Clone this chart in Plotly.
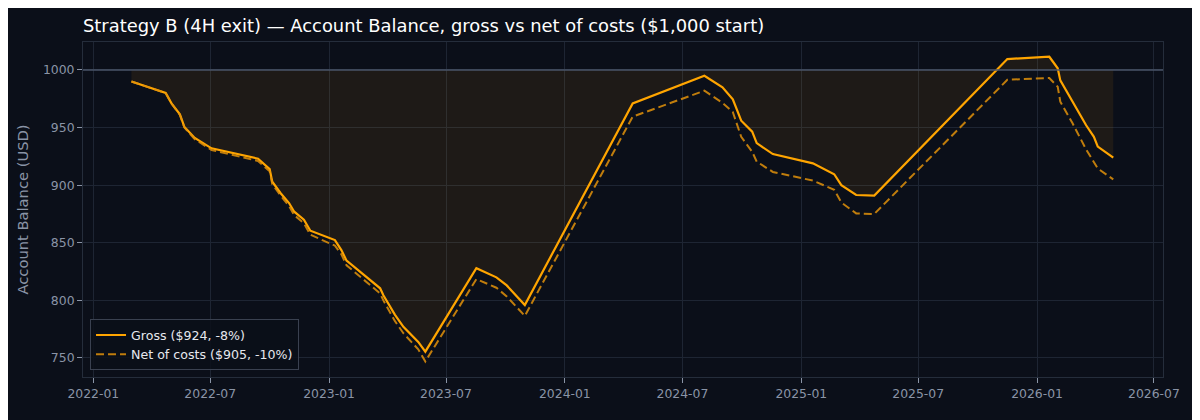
import plotly.graph_objects as go

dates = [
    "2022-03-01", "2022-04-23", "2022-05-02", "2022-05-15", "2022-05-22", "2022-06-07",
    "2022-07-03", "2022-09-13", "2022-10-01", "2022-10-05", "2022-10-18", "2022-10-31",
    "2022-11-08", "2022-11-23", "2022-12-03", "2023-01-10", "2023-01-20", "2023-01-28",
    "2023-03-21", "2023-03-26", "2023-04-13", "2023-04-26", "2023-05-19", "2023-05-30",
    "2023-08-17", "2023-09-17", "2023-10-03", "2023-10-31", "2024-04-15", "2024-08-04",
    "2024-09-01", "2024-09-17", "2024-09-30", "2024-10-17", "2024-10-24", "2024-11-18",
    "2025-01-19", "2025-02-21", "2025-03-04", "2025-03-27", "2025-04-24", "2025-11-16",
    "2026-01-20", "2026-02-02", "2026-02-06", "2026-02-25", "2026-03-18", "2026-03-30",
    "2026-04-05", "2026-04-29",
]
gross = [
    990, 980, 971, 961.5, 950.5, 941,
    932, 923, 914, 903, 893, 884.5,
    877, 870, 860.5, 852.4, 843.7, 834.5,
    810.5, 804.5, 787.5, 777, 764, 755.5,
    828, 820, 813, 796, 971, 995,
    985, 974.5, 956, 946.5, 936.5, 927,
    919, 909.5, 900, 891.5, 891, 1009.5,
    1011.5, 1001.5, 991, 972.5, 952, 942,
    933.5, 924,
]
net = [
    990, 980, 971, 961, 950, 940,
    930.5, 921, 912, 901, 891, 882,
    874, 867, 857, 847.5, 840, 830.5,
    806, 800, 782, 771.5, 757.5, 747,
    818.5, 811, 803.5, 786.5, 959.5, 982,
    971.5, 963.5, 942, 929, 920.5, 911.5,
    904, 896, 885, 875.5, 875, 991.5,
    993, 985.5, 972.5, 953.7, 931, 920,
    914.5, 905,
]
start_balance = 1000
series_names = ["Gross ($924, -8%)", "Net of costs ($905, -10%)"]
tick_vals = ["2022-01-01", "2022-07-01", "2023-01-01", "2023-07-01", "2024-01-01",
             "2024-07-01", "2025-01-01", "2025-07-01", "2026-01-01", "2026-07-01"]
tick_text = ["2022-01", "2022-07", "2023-01", "2023-07", "2024-01",
             "2024-07", "2025-01", "2025-07", "2026-01", "2026-07"]

BG = "#0b0f19"
GRID = "#1e2533"
TICK = "#8a94a6"

fig = go.Figure()
# invisible copy of gross, then baseline filled to it (keeps fill swatch out of legend)
fig.add_trace(go.Scatter(x=dates, y=gross, mode="lines", line=dict(width=0),
                         showlegend=False, hoverinfo="skip"))
fig.add_trace(go.Scatter(x=dates, y=[start_balance] * len(dates), mode="lines",
                         fill="tonexty", fillcolor="rgba(255,165,0,0.08)",
                         line=dict(width=0), showlegend=False, hoverinfo="skip"))
fig.add_trace(go.Scatter(x=dates, y=gross, mode="lines",
                         line=dict(color="#ffa500", width=2.2),
                         name=series_names[0], legendgroup="g1"))
fig.add_trace(go.Scatter(x=dates, y=net, mode="lines",
                         line=dict(color="rgba(225,145,10,0.85)", width=2, dash="8px,4px"),
                         name=series_names[1], legendgroup="g2"))

fig.add_hline(y=start_balance, line=dict(color="#4a5468", width=1.3))

fig.update_layout(
    width=1200, height=420,
    paper_bgcolor=BG, plot_bgcolor=BG,
    margin=dict(l=75, r=45, t=34, b=51, autoexpand=False),
    font=dict(family="DejaVu Sans", color=TICK, size=12.4),
    title=dict(text="Strategy B (4H exit) — Account Balance, gross vs net of costs ($1,000 start)",
               x=75/1200, xanchor="left", y=1 - 18/420, yanchor="middle",
               font=dict(size=17.9, color="#ffffff", family="DejaVu Sans")),
    legend=dict(x=0.0065, y=0.02, xanchor="left", yanchor="bottom", traceorder="normal",
                tracegroupgap=3,
                bgcolor="rgba(11,15,25,0.85)", bordercolor="#3a4150", borderwidth=1,
                font=dict(color="#e6e8ee", size=12.6)),
    xaxis=dict(range=["2021-12-16", "2026-07-15"], tickvals=tick_vals, ticktext=tick_text,
               showgrid=True, gridcolor=GRID, zeroline=False, automargin=False,
               showline=True, linecolor="#252d3b", mirror=True,
               ticks="outside", ticklen=5, tickcolor=TICK),
    yaxis=dict(range=[733.5, 1024.3], dtick=50, showgrid=True, gridcolor=GRID, zeroline=False,
               showline=True, linecolor="#252d3b", mirror=True, automargin=False,
               ticks="outside", ticklen=5, tickcolor=TICK,
               title=dict(text="Account Balance (USD)", font=dict(size=14.7, color=TICK), standoff=10)),
)

fig.write_html("out.html")
